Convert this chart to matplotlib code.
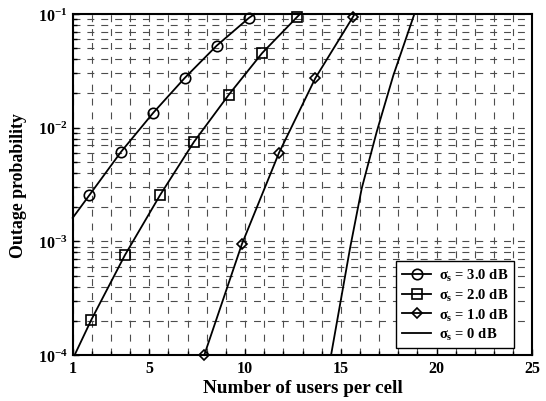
import numpy as np
import matplotlib
matplotlib.use("Agg")
import matplotlib.pyplot as plt
from matplotlib.ticker import FixedLocator, LogLocator, NullFormatter

plt.rcParams['font.family'] = ['Liberation Serif', 'DejaVu Serif']
plt.rcParams['font.weight'] = 'bold'
plt.rcParams['axes.labelweight'] = 'bold'
plt.rcParams['mathtext.fontset'] = 'custom'
plt.rcParams['mathtext.rm'] = 'Liberation Serif:bold'
plt.rcParams['mathtext.it'] = 'Liberation Serif:bold'
plt.rcParams['mathtext.bf'] = 'Liberation Serif:bold'
plt.rcParams['lines.scale_dashes'] = False

# curves (first/last points are line ends, no marker)
x_s3 = [1.0, 1.87, 3.52, 5.21, 6.86, 8.52, 10.2, 10.5]
p_s3 = [0.00161, 0.00255, 0.00612, 0.01355, 0.0275, 0.0527, 0.0923, 0.1]

x_s2 = [1.1, 1.97, 3.73, 5.56, 7.33, 9.14, 10.89, 12.70, 12.87]
p_s2 = [1e-4, 2.04e-4, 7.59e-4, 2.55e-3, 7.5e-3, 0.0194, 0.0453, 0.0935, 0.1]

x_s1 = [7.87, 9.83, 11.77, 13.67, 15.62, 15.72]
p_s1 = [1.0e-4, 9.42e-4, 6.0e-3, 0.0273, 0.0935, 0.1]

x_s0 = [14.49, 15.48, 16.09, 16.87, 17.74, 18.84]
p_s0 = [1e-4, 8.69e-4, 2.92e-3, 9.16e-3, 0.0288, 0.1]

labels = [r'$\sigma_s$ = 3.0 dB', r'$\sigma_s$ = 2.0 dB',
          r'$\sigma_s$ = 1.0 dB', r'$\sigma_s$ = 0 dB']
xticks = [1, 5, 10, 15, 20, 25]

fig = plt.figure(figsize=(5.46, 4.02), dpi=100)
ax = fig.add_axes([0.1332, 0.1144, 0.8418, 0.8483])

style = dict(color='black', lw=1.3, mfc='none', mec='black', mew=1.2, clip_on=False)
ax.plot(x_s3, p_s3, marker='o', ms=7.5, markevery=slice(1, -1), label=labels[0], **style)
ax.plot(x_s2, p_s2, marker='s', ms=6.5, markevery=slice(1, -1), label=labels[1], **style)
ax.plot(x_s1, p_s1, marker='D', ms=5.5, markevery=slice(0, -1), label=labels[2], **style)
ax.plot(x_s0, p_s0, label=labels[3], color='black', lw=1.3)

ax.set_yscale('log')
ax.set_xlim(1, 25)
ax.set_ylim(1e-4, 1e-1)
ax.xaxis.set_major_locator(FixedLocator(xticks))
ax.xaxis.set_minor_locator(FixedLocator(np.arange(1, 26)))
ax.yaxis.set_minor_locator(LogLocator(base=10, subs=np.arange(2, 10)))
ax.yaxis.set_minor_formatter(NullFormatter())

ax.grid(which='both', color='0.3', lw=0.8, linestyle=(0, (5, 5)))
ax.tick_params(which='both', direction='in', labelsize=11.5, width=1)
ax.tick_params(which='major', length=4)
ax.tick_params(which='minor', length=3)
for s in ax.spines.values():
    s.set_linewidth(1.5)

ax.set_xlabel('Number of users per cell', fontsize=13.8, labelpad=2)
ax.set_ylabel('Outage probability', fontsize=12.8, labelpad=8)

leg = ax.legend(loc='lower right', bbox_to_anchor=(0.96, 0.02), borderaxespad=0,
                fontsize=10.5, fancybox=False, framealpha=1, edgecolor='black',
                handlelength=2.0, handletextpad=0.5, labelspacing=0.25,
                borderpad=0.4)
leg.get_frame().set_linewidth(1.0)

fig.savefig('out.png', dpi=100, facecolor='white')
